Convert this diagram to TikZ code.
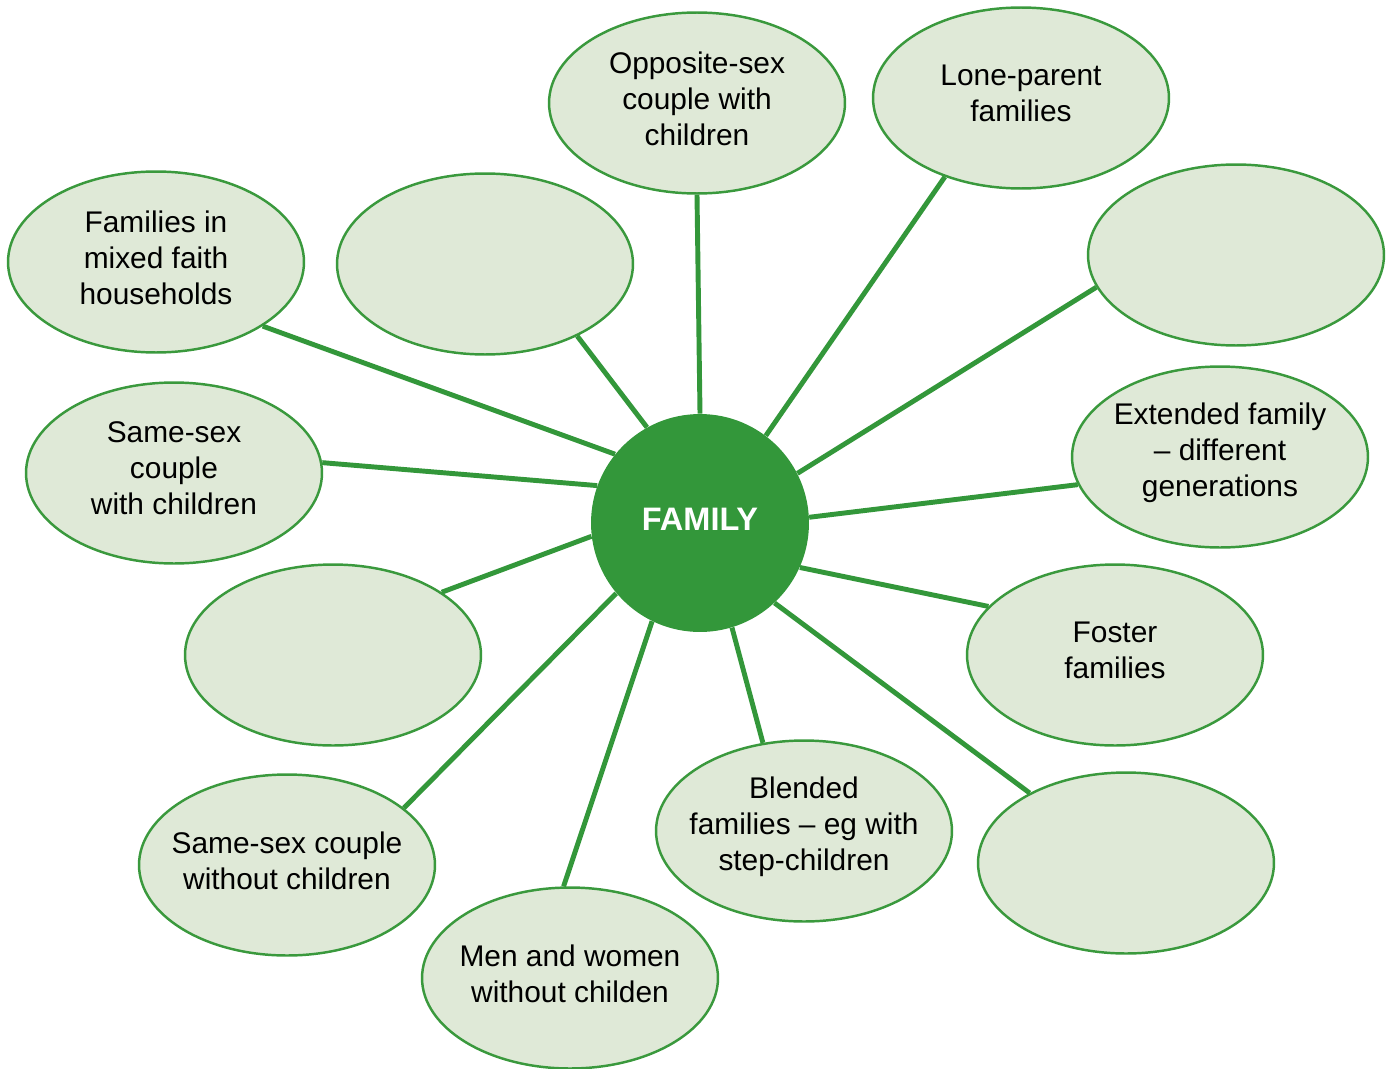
\documentclass[tikz,border=0pt]{standalone}
\usepackage{fontspec}
\setmainfont{Liberation Sans}
\usetikzlibrary{shapes.geometric}
\definecolor{famgreen}{HTML}{33973A}
\definecolor{bubblefill}{HTML}{DFE9D7}
\definecolor{bubbleline}{HTML}{3A993D}
\tikzset{bubble/.style = {ellipse, draw=bubbleline, line width=1.4pt, fill=bubblefill,
    minimum width=5.92cm, minimum height=3.62cm, inner sep=0pt}}
\tikzset{txt/.style = {align=center, font=\fontsize{17}{20.5}\selectfont, inner sep=0pt, yshift=0.09cm}}
\tikzset{spoke/.style = {draw=famgreen, line width=2.8pt}}

\begin{document}
\begin{tikzpicture}[x=0.02cm, y=-0.02cm]
\useasboundingbox (0,0) rectangle (1392,1068);
\node [bubble, label={[txt]center:{Opposite-sex\\couple with\\children}}] (opp) at (697,103) {};
\node [bubble, label={[txt]center:{Lone-parent\\families}}] (lone) at (1021,98) {};
\node [bubble] (blankNE) at (1236,255) {};
\node [bubble, label={[txt]center:{Extended family\\-- different\\generations}}] (ext) at (1220,457) {};
\node [bubble, label={[txt]center:{Foster\\families}}] (foster) at (1115,655) {};
\node [bubble] (blankSE) at (1126,863) {};
\node [bubble, label={[txt]center:{Blended\\families -- eg with\\step-children}}] (blend) at (804,831) {};
\node [bubble, label={[txt]center:{Men and women\\without childen}}] (menwomen) at (570,978) {};
\node [bubble, label={[txt]center:{Same-sex couple\\without children}}] (ssno) at (287,865) {};
\node [bubble] (blankW) at (333,655) {};
\node [bubble, label={[txt]center:{Same-sex\\couple\\with children}}] (sswith) at (174,473) {};
\node [bubble, label={[txt]center:{Families in\\mixed faith\\households}}] (faith) at (156,262) {};
\node [bubble] (blankN) at (485,264) {};
\node [circle, fill=famgreen, minimum size=4.36cm, inner sep=0pt, text=white,
  font=\fontsize{18.5}{22}\selectfont\bfseries,
  label={[text=white, font=\fontsize{18.5}{22}\selectfont\bfseries, yshift=0.08cm]center:FAMILY}] (fam) at (700,523) {};
% spokes
\foreach \a/\b/\n in {90/-90/opp, 53/226/lone, 27/193/blankNE, 3/191/ext, -24/159/foster,
    -47/144/blankSE, -73/115/blend, 244/94/menwomen, 220/26/ssno, 187/30/blankW,
    160/4/sswith, 141/-31/faith, 119/-38/blankN}
  \draw [spoke] (fam.\a) -- (\n.\b);
\end{tikzpicture}
\end{document}
